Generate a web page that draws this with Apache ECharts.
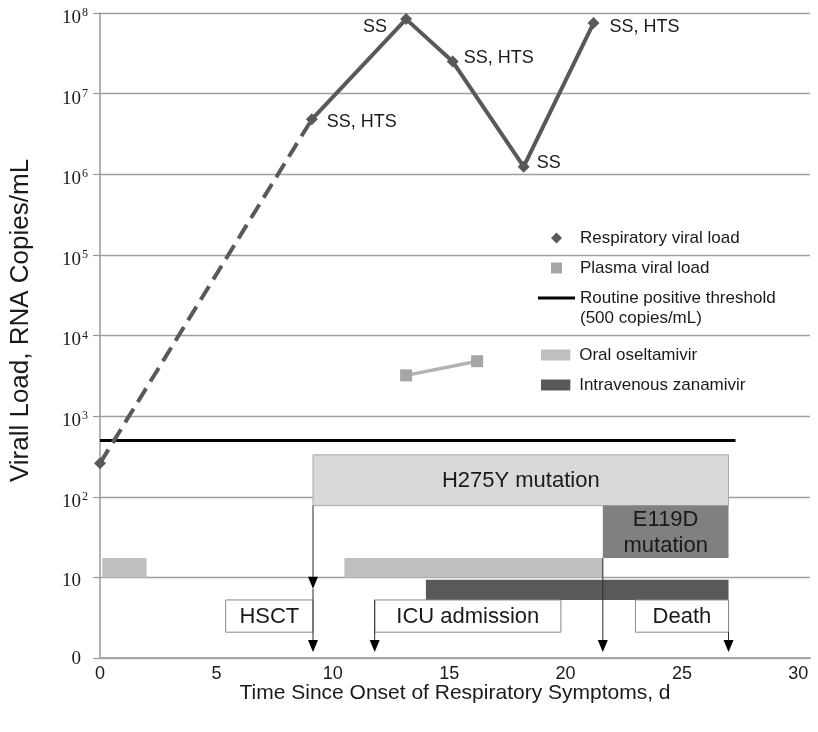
<!DOCTYPE html>
<html><head><meta charset="utf-8">
<script src="https://cdn.jsdelivr.net/npm/echarts@6/dist/echarts.min.js"></script>
<style>html,body{margin:0;padding:0;background:#fff}#c{width:818px;height:732px}</style>
</head><body><div id="c"></div>
<script>
// ---------------- data ----------------
const respDays = [0, 9.1, 13.15, 15.15, 18.2, 21.2];
const respLoad = [260, 4.8e6, 8.4e7, 2.5e7, 1.24e6, 7.5e7];
const respTests = ['', 'SS, HTS', 'SS', 'SS, HTS', 'SS', 'SS, HTS'];
const plasmaDays = [13.15, 16.2];
const plasmaLoad = [3200, 4800];
const thresholdValue = 500;
const thresholdDays = [0, 27.3];
const oseltamivirPeriods = [[0.1, 2.0], [10.5, 21.6]];
const zanamivirPeriods = [[14.0, 27.0]];
const mutationNames = ['H275Y mutation', 'E119D\nmutation'];
const mutationStart = [9.15, 21.6];
const mutationEnd = [27.0, 27.0];
const eventNames = ['HSCT', 'ICU admission', 'Death'];
const eventDays = [9.15, 11.8, 27.0];
const xTickValues = [0, 5, 10, 15, 20, 25, 30];
const yTickExponents = [0, 1, 2, 3, 4, 5, 6, 7, 8];

// ---------------- layout (not data) ----------------
const FONT = 'Liberation Sans';
const ROW = { h275: [1.89, 2.52], e119: [1.24, 1.89], osel: [1.0, 1.24], zana: [0.72, 0.97], event: [0.32, 0.72], tip: 0.075, midTip: 0.86 };
const eventBoxSpan = [[5.4, 9.15], [11.8, 19.8], [23.0, 27.0]];
const respLabelPos = [null,
  { position: 'right', distance: 9, offset: [0, 3] },
  { position: 'left', distance: 13, offset: [0, 8] },
  { position: 'right', distance: 5, offset: [0, -4] },
  { position: 'right', distance: 7, offset: [0, -4] },
  { position: 'right', distance: 10, offset: [0, 4] }];

const lg = v => Math.log10(v);

function rectGroup(api, x1, x2, y1, y2, fill, stroke, text, textColor) {
  const a = api.coord([x1, y2]);
  const b = api.coord([x2, y1]);
  const children = [{ type: 'rect', shape: { x: a[0], y: a[1], width: b[0] - a[0], height: b[1] - a[1] },
    style: { fill: fill, stroke: stroke || null, lineWidth: stroke ? 1 : 0 } }];
  if (text) children.push({ type: 'text', x: (a[0] + b[0]) / 2, y: (a[1] + b[1]) / 2 + 1,
    style: { text: text, fontSize: 22, fontFamily: FONT, fill: textColor || '#1a1a1a', align: 'center', verticalAlign: 'middle', lineHeight: 26 } });
  return { type: 'group', children: children };
}

// arrows: [day, fromLog, toLog]
const arrows = [
  [mutationStart[0], ROW.h275[0], ROW.midTip],
  [eventDays[0], ROW.midTip, ROW.tip],
  [eventDays[1], ROW.event[1], ROW.tip],
  [mutationStart[1], ROW.e119[0], ROW.tip],
  [eventDays[2], ROW.event[0], ROW.tip]
];

const respSolid = respDays.slice(1).map((d, i) => ({
  value: [d, lg(respLoad[i + 1])],
  label: Object.assign({ formatter: respTests[i + 1] }, respLabelPos[i + 1])
}));
const respDashed = [
  { value: [respDays[0], lg(respLoad[0])], symbol: 'diamond' },
  { value: [respDays[1], lg(respLoad[1])], symbol: 'none' }
];

const legendBase = { orient: 'vertical', itemWidth: 37, itemHeight: 11, itemGap: 10, selectedMode: false,
  textStyle: { fontSize: 17, lineHeight: 20, color: '#1a1a1a', fontFamily: FONT } };

const option = {
  animation: false,
  backgroundColor: '#fff',
  grid: { left: 100, right: 8, top: 13, bottom: 74 },
  legend: [
    Object.assign({}, legendBase, { left: 546, top: 223, data: [
      { name: 'Respiratory viral load', icon: 'path://M5,0L10,5L5,10L0,5Z' },
      { name: 'Plasma viral load', icon: 'path://M0,0h1v1h-1z' }] }),
    Object.assign({}, legendBase, { left: 533, top: 263,
      formatter: name => ' \n' + name,
      data: [{ name: 'Routine positive threshold\n(500 copies/mL)', icon: 'path://M0,0h37v3.2h-37z' }] }),
    Object.assign({}, legendBase, { left: 536, top: 340, data: [
      { name: 'Oral oseltamivir', icon: 'path://M0,0h24v9h-24z' },
      { name: 'Intravenous zanamivir', icon: 'path://M0,0h24v9h-24z' }] })
  ],
  xAxis: {
    type: 'value', min: 0, max: 30.5, interval: 5,
    axisLine: { show: true, lineStyle: { color: '#a6a6a6', width: 2 } },
    axisTick: { show: false }, splitLine: { show: false },
    axisLabel: { margin: 7, fontSize: 18, fontFamily: FONT, color: '#1a1a1a',
      formatter: v => (xTickValues.indexOf(v) >= 0 ? String(v) : '') },
    name: 'Time Since Onset of Respiratory Symptoms, d', nameLocation: 'middle', nameGap: 25,
    nameMoveOverlap: false,
    nameTextStyle: { fontSize: 21, fontFamily: FONT, color: '#1a1a1a' }
  },
  yAxis: {
    type: 'value', min: 0, max: 8, interval: 1,
    axisLine: { show: true, lineStyle: { color: '#9a9a9a', width: 1.5 } },
    axisTick: { show: true, length: 7, lineStyle: { color: '#9a9a9a', width: 1.2 } },
    splitLine: { lineStyle: { color: '#9f9f9f', width: 1.3 } },
    axisLabel: {
      margin: 12,
      formatter: v => {
        const e = yTickExponents[Math.round(v)];
        if (e === 0) return '{z|0}';
        if (e === 1) return '{bp|10}';
        return '{b|10}{s|' + e + '}';
      },
      rich: {
        z: { fontFamily: 'Liberation Serif', fontSize: 19, color: '#1a1a1a', padding: [2, 7, 0, 0] },
        bp: { fontFamily: 'Liberation Serif', fontSize: 19, color: '#1a1a1a', padding: [8, 7, 0, 0] },
        b: { fontFamily: 'Liberation Serif', fontSize: 19, color: '#1a1a1a', padding: [10, 0, 0, 0] },
        s: { fontFamily: 'Liberation Serif', fontSize: 12, color: '#1a1a1a', padding: [0, 0, 0, 1] }
      }
    },
    name: 'Virall Load, RNA Copies/mL', nameLocation: 'middle', nameGap: 66,
    nameMoveOverlap: false,
    nameTextStyle: { fontSize: 26, fontFamily: FONT, color: '#1a1a1a', padding: [0, 0, 0, 30] }
  },
  series: [
    { // mutation boxes
      type: 'custom', silent: true, z: 1,
      data: mutationNames.map((n, i) => [mutationStart[i], mutationEnd[i]]),
      renderItem: (params, api) => {
        const i = params.dataIndex;
        const r = i === 0 ? ROW.h275 : ROW.e119;
        return rectGroup(api, api.value(0), api.value(1), r[0], r[1], i === 0 ? '#d9d9d9' : '#808080',
          i === 0 ? '#a8a8a8' : null, mutationNames[i], '#1a1a1a');
      }
    },
    {
      name: 'Oral oseltamivir', type: 'custom', z: 1, itemStyle: { color: '#bfbfbf' },
      data: oseltamivirPeriods.map(p => [p[0], p[1]]),
      renderItem: (params, api) => rectGroup(api, api.value(0), api.value(1), ROW.osel[0], ROW.osel[1], api.visual('color'))
    },
    {
      name: 'Intravenous zanamivir', type: 'custom', z: 1, itemStyle: { color: '#595959' },
      data: zanamivirPeriods.map(p => [p[0], p[1]]),
      renderItem: (params, api) => rectGroup(api, api.value(0), api.value(1), ROW.zana[0], ROW.zana[1], api.visual('color'))
    },
    { // event label boxes
      type: 'custom', silent: true, z: 2,
      data: eventNames.map((n, i) => [eventBoxSpan[i][0], eventBoxSpan[i][1]]),
      renderItem: (params, api) => rectGroup(api, api.value(0), api.value(1), ROW.event[0], ROW.event[1], '#ffffff', '#8a8a8a', eventNames[params.dataIndex])
    },
    { // arrows
      type: 'custom', silent: true, z: 3,
      data: arrows,
      renderItem: (params, api) => {
        const top = api.coord([api.value(0), api.value(1)]);
        const tip = api.coord([api.value(0), api.value(2)]);
        const x = tip[0];
        return { type: 'group', children: [
          { type: 'line', shape: { x1: x, y1: top[1], x2: x, y2: tip[1] - 11 }, style: { stroke: '#2a2a2a', lineWidth: 1 } },
          { type: 'polygon', shape: { points: [[x - 5, tip[1] - 12], [x + 5, tip[1] - 12], [x, tip[1]]] }, style: { fill: '#000' } }
        ] };
      }
    },
    {
      name: 'Routine positive threshold\n(500 copies/mL)', type: 'line', z: 4,
      data: thresholdDays.map(d => [d, lg(thresholdValue)]),
      showSymbol: false, symbol: 'none', itemStyle: { color: '#000' },
      lineStyle: { color: '#000', width: 3 }
    },
    { // dashed first segment
      type: 'line', z: 5, data: respDashed, symbolSize: 12, showSymbol: true,
      itemStyle: { color: '#595959' }, lineStyle: { color: '#595959', width: 4, type: [16, 8] }
    },
    {
      name: 'Respiratory viral load', type: 'line', z: 6, data: respSolid,
      symbol: 'diamond', symbolSize: 12, showSymbol: true,
      itemStyle: { color: '#595959' }, lineStyle: { color: '#595959', width: 4 },
      label: { show: true, fontSize: 18, fontFamily: FONT, color: '#1a1a1a' }
    },
    {
      name: 'Plasma viral load', type: 'line', z: 6,
      data: plasmaDays.map((d, i) => [d, lg(plasmaLoad[i])]),
      symbol: 'rect', symbolSize: 12, showSymbol: true,
      itemStyle: { color: '#a6a6a6' }, lineStyle: { color: '#b3b3b3', width: 3.5 }
    }
  ]
};

const chart = echarts.init(document.getElementById('c'), null, { renderer: 'canvas' });
chart.setOption(option);
</script>
</body></html>
